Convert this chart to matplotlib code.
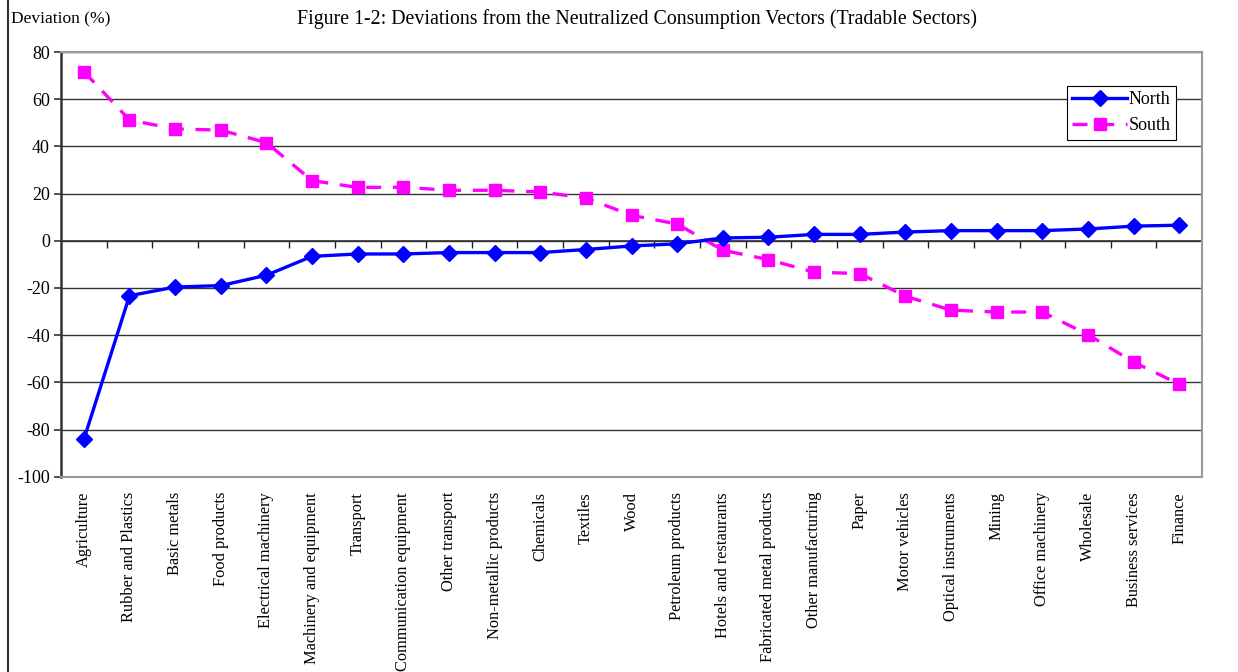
import matplotlib
matplotlib.use("Agg")
import matplotlib.pyplot as plt
from matplotlib.lines import Line2D

plt.rcParams["font.family"] = ["Liberation Serif", "DejaVu Serif"]

sectors = ["Agriculture", "Rubber and Plastics", "Basic metals", "Food products",
           "Electrical machinery", "Machinery and equipment", "Transport",
           "Communication equipment", "Other transport", "Non-metallic products",
           "Chemicals", "Textiles", "Wood", "Petroleum products",
           "Hotels and restaurants", "Fabricated metal products",
           "Other manufacturing", "Paper", "Motor vehicles", "Optical instruments",
           "Mining", "Office machinery", "Wholesale", "Business services", "Finance"]

north = [-84.2, -23.3, -19.6, -19.0, -14.6, -6.6, -5.6, -5.6, -5.0, -5.0,
         -5.0, -3.7, -2.2, -1.3, 1.2, 1.5, 2.7, 2.7, 3.7, 4.3,
         4.3, 4.3, 5.0, 6.2, 6.6]
south = [71.7, 51.2, 47.4, 46.9, 41.6, 25.5, 22.6, 22.7, 21.4, 21.4,
         20.7, 18.1, 10.8, 7.1, -4.0, -8.0, -13.3, -13.9, -23.5, -29.4,
         -30.2, -30.2, -39.8, -51.4, -60.8]

yticks = list(range(-100, 81, 20))

fig = plt.figure(figsize=(12.38, 6.72), dpi=100)
ax = fig.add_axes([0.0493, 0.2906, 0.9217, 0.632])

x = list(range(len(sectors)))
ax.plot(x, north, color="#0000FF", linewidth=2.4, marker="D", markersize=8,
        label="North", zorder=4)
ax.plot(x, south, color="#FF00FF", linewidth=2.4, linestyle=(0, (4.5, 3.5)),
        marker="s", markersize=9, label="South", zorder=3)

ax.set_xlim(-0.5, len(sectors) - 0.5)
ax.set_ylim(-100, 80)
ax.set_yticks(yticks)
ax.set_yticklabels([str(v) for v in yticks], fontsize=13)
ax.yaxis.grid(True, color="#333333", linewidth=1)
ax.set_axisbelow(True)

ax.set_xticks(x)
ax.set_xticklabels(sectors, rotation=90, fontsize=11.8, va="top", ha="center")
ax.tick_params(axis="x", length=0, pad=11)
ax.tick_params(axis="y", length=5, width=1.2, color="#333333", direction="out", pad=3)

for side in ["top", "right", "bottom"]:
    ax.spines[side].set_color("#999999")
    ax.spines[side].set_linewidth(1.5)
ax.spines["left"].set_color("#333333")
ax.spines["left"].set_linewidth(1.8)

# category axis with boundary ticks at zero
ax.axhline(0, color="#333333", linewidth=1.2, zorder=2)
sec = ax.secondary_xaxis(100 / 180)
sec.set_alignment("bottom")
sec.set_xticks([i + 0.5 for i in x[:-1]])
sec.set_xticklabels([])
sec.tick_params(axis="x", length=5, width=1, color="#222222", direction="out")
sec.spines["bottom"].set_visible(False)
sec.spines["top"].set_visible(False)

leg = ax.legend(loc="upper right", bbox_to_anchor=(0.977, 0.92), fontsize=13,
                frameon=True, fancybox=False, edgecolor="black", framealpha=1,
                handlelength=3.0, borderpad=0.3, labelspacing=0.5,
                handletextpad=0.1, borderaxespad=0)
leg.get_frame().set_linewidth(0.8)

fig.text(11 / 1238, 1 - 19 / 672, "Deviation (%)", fontsize=12.5, va="center", ha="left")
fig.text(637 / 1238, 1 - 19 / 672,
         "Figure 1-2: Deviations from the Neutralized Consumption Vectors (Tradable Sectors)",
         fontsize=14.3, va="center", ha="center")

fig.add_artist(Line2D([8 / 1238, 8 / 1238], [0, 1], transform=fig.transFigure,
                      color="#333333", linewidth=1.5))

fig.savefig("out.png", dpi=100)
